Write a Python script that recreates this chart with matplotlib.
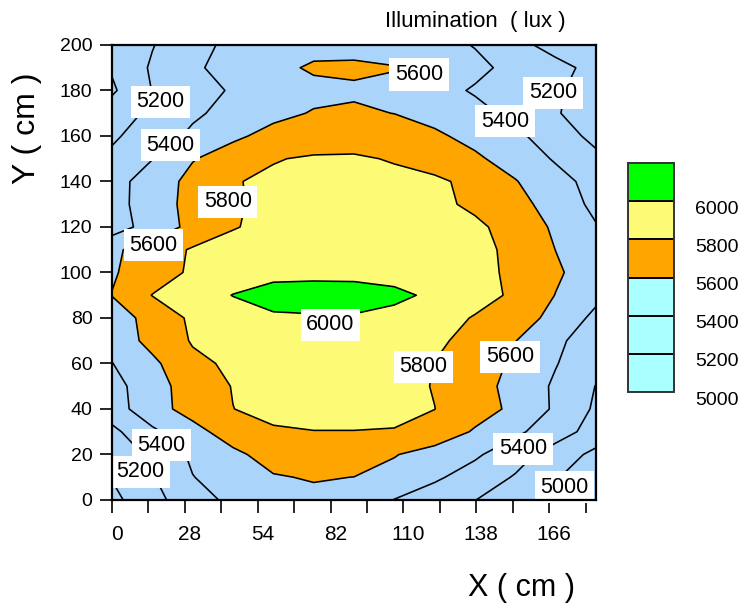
import numpy as np
import matplotlib.pyplot as plt
import matplotlib.transforms as mtransforms
from matplotlib.colors import ListedColormap, BoundaryNorm
import matplotlib.cm as cm

plt.rcParams['font.family'] = ['Liberation Sans', 'DejaVu Sans']

# measurement grid (cm)
x_pos = [0, 15.5, 31, 46.5, 62, 77.5, 93, 108.5, 124, 139.5, 155, 170.5, 186]
y_pos = list(range(0, 201, 10))

# illuminance (lux), one row per y position
lux_rows = [
    [4945, 5142, 5305, 5452, 5510, 5550, 5520, 5395, 5300, 5203, 5093, 4982, 4870],  # y=0
    [5010, 5185, 5395, 5480, 5585, 5615, 5598, 5540, 5430, 5314, 5184, 5016, 4870],  # 10
    [5045, 5247, 5432, 5556, 5680, 5740, 5720, 5610, 5524, 5430, 5282, 5110, 4950],  # 20
    [5150, 5364, 5530, 5700, 5780, 5795, 5795, 5790, 5720, 5580, 5440, 5290, 5120],  # 30
    [5310, 5521, 5678, 5798, 5850, 5880, 5880, 5850, 5802, 5680, 5560, 5370, 5170],  # 40
    [5324, 5528, 5683, 5808, 5880, 5920, 5920, 5870, 5790, 5672, 5540, 5370, 5195],  # 50
    [5395, 5557, 5760, 5830, 5900, 5950, 5945, 5890, 5796, 5690, 5570, 5410, 5260],  # 60
    [5470, 5663, 5815, 5880, 5930, 5970, 5965, 5920, 5840, 5730, 5605, 5430, 5320],  # 70
    [5500, 5670, 5835, 5910, 5985, 5990, 5990, 5960, 5890, 5785, 5680, 5550, 5350],  # 80
    [5605, 5805, 5900, 6005, 6040, 6045, 6045, 6030, 5975, 5880, 5765, 5595, 5450],  # 90
    [5580, 5705, 5830, 5900, 5970, 5973, 5970, 5950, 5900, 5860, 5760, 5630, 5490],  # 100
    [5565, 5690, 5820, 5880, 5930, 5960, 5950, 5930, 5900, 5860, 5750, 5598, 5460],  # 110
    [5300, 5488, 5652, 5787, 5860, 5900, 5910, 5900, 5880, 5840, 5720, 5570, 5410],  # 120
    [5320, 5507, 5659, 5780, 5845, 5880, 5890, 5880, 5850, 5760, 5680, 5500, 5360],  # 130
    [5320, 5500, 5652, 5790, 5830, 5860, 5865, 5850, 5840, 5740, 5610, 5470, 5330],  # 140
    [5240, 5395, 5590, 5680, 5790, 5820, 5825, 5785, 5700, 5630, 5520, 5380, 5240],  # 150
    [5170, 5300, 5435, 5570, 5650, 5700, 5705, 5680, 5630, 5545, 5445, 5290, 5150],  # 160
    [5100, 5240, 5370, 5460, 5560, 5610, 5620, 5598, 5540, 5460, 5350, 5215, 5100],  # 170
    [4970, 5205, 5320, 5420, 5500, 5560, 5580, 5560, 5470, 5380, 5300, 5230, 5100],  # 180
    [5020, 5225, 5370, 5470, 5560, 5620, 5625, 5608, 5540, 5450, 5340, 5250, 5150],  # 190
    [5050, 5190, 5345, 5440, 5500, 5550, 5550, 5520, 5470, 5390, 5250, 5140, 5060],  # 200
]

fill_levels = [4800, 5600, 5800, 6000, 6200]
fill_colors = ['#aad4fa', '#ffa500', '#fdfa75', '#00ff00']
line_levels = [5000, 5200, 5400, 5600, 5800, 6000]

# in-map contour labels
label_values = [5600, 5200, 5400, 5800, 5600, 6000, 5200, 5400,
                5600, 5800, 5400, 5200, 5400, 5000]
label_xy = [(118, 187), (18.6, 175), (22.5, 156), (44.5, 131), (16, 112),
            (84, 77), (169.5, 179), (151, 166.5), (153, 63), (119.7, 58.6),
            (19, 24), (11, 12.3), (158, 22.5), (174, 5.7)]

# legend bar
legend_bounds = [5000, 5200, 5400, 5600, 5800, 6000, 6200]
legend_colors = ['#aaffff', '#aaffff', '#aaffff', '#ffa500', '#fdfa75', '#00ff00']
legend_ticks = [5000, 5200, 5400, 5600, 5800, 6000]

x_tick_pos = list(range(0, 183, 14))
x_tick_text = ['0', '', '28', '', '54', '', '82', '', '110', '', '138', '', '166', '']
y_ticks = list(range(0, 201, 20))

Z = np.array(lux_rows, dtype=float)

fig = plt.figure(figsize=(7.41, 6.11), dpi=100)
ax = fig.add_axes([0.1511, 0.1817, 0.6532, 0.7447])

ax.contourf(x_pos, y_pos, Z, levels=fill_levels, colors=fill_colors)
ax.contour(x_pos, y_pos, Z, levels=line_levels, colors='black', linewidths=1.15)

for val, (lx, ly) in zip(label_values, label_xy):
    ax.text(lx, ly, str(val), ha='center', va='center', fontsize=15.5, zorder=6,
            bbox=dict(facecolor='white', edgecolor='none', pad=4))

ax.set_xlim(0, 186)
ax.set_ylim(0, 200)

ax.set_xticks(x_tick_pos)
ax.set_xticklabels(x_tick_text, fontsize=15)
ax.set_yticks(y_ticks)
ax.set_yticklabels([str(v) for v in y_ticks], fontsize=14)
ax.tick_params(axis='x', direction='out', length=9, width=1.2, pad=9)
ax.tick_params(axis='y', direction='out', length=9, width=1.2, pad=5)

shift = mtransforms.ScaledTranslation(0.05, 0, fig.dpi_scale_trans)
for lab in ax.get_xticklabels():
    lab.set_transform(lab.get_transform() + shift)

for sp in ax.spines.values():
    sp.set_linewidth(1.6)
    sp.set_zorder(7)

fig.text(27.5 / 741, 1 - 128 / 611, 'Y ( cm )', rotation=90, ha='center',
         va='center', fontsize=23)
fig.text(522 / 741, 1 - 588 / 611, 'X ( cm )', ha='center', va='center',
         fontsize=22)
fig.text(475 / 741, 1 - 21 / 611, 'Illumination  ( lux )', ha='center',
         va='center', fontsize=16)

# legend bar
cax = fig.add_axes([0.8475, 0.3584, 0.0621, 0.3748])
cmap = ListedColormap(legend_colors)
norm = BoundaryNorm(legend_bounds, cmap.N)
sm = cm.ScalarMappable(norm=norm, cmap=cmap)
cbar = fig.colorbar(sm, cax=cax, ticks=legend_ticks, drawedges=True)
cbar.ax.minorticks_off()
cbar.outline.set_edgecolor('#333333')
cbar.outline.set_linewidth(1.4)
cbar.dividers.set_color('black')
cbar.dividers.set_linewidth(1.4)
cbar.ax.tick_params(length=0, pad=15)
cbar.ax.set_yticklabels([str(v) for v in legend_ticks], fontsize=14)
down = mtransforms.ScaledTranslation(0, -0.06, fig.dpi_scale_trans)
for lab in cbar.ax.get_yticklabels():
    lab.set_transform(lab.get_transform() + down)

fig.savefig('out.png', dpi=100)
